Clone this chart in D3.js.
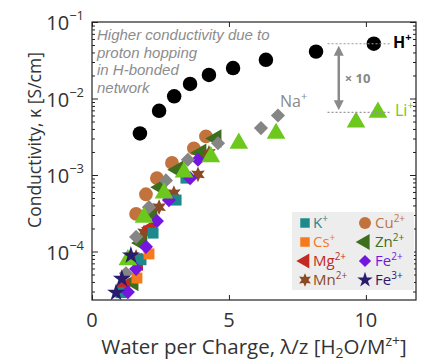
<!DOCTYPE html>
<html>
<head>
<meta charset="utf-8">
<script src="https://cdn.jsdelivr.net/npm/d3@7"></script>
<style>
  body { margin: 0; background: #fff; }
  text { font-family: 'Open Sans', sans-serif; }
</style>
</head>
<body>
<svg id="chart"></svg>
<script>
// data: [water per charge, conductivity S/cm]
const hPlus  = [[1.75,3.5e-3],[2.45,6.9e-3],[3.0,1.07e-2],[3.58,1.55e-2],[4.27,2.03e-2],[5.15,2.5e-2],[6.35,3.2e-2],[8.18,4.1e-2],[10.29,5.2e-2]]
const liPlus = [[1.31,7.8e-5],[1.90,2.8e-4],[2.63,5.8e-4],[3.36,1.09e-3],[4.34,1.73e-3],[5.36,2.6e-3],[6.72,3.5e-3],[9.64,4.9e-3],[10.44,6.6e-3]]
const naPlus = [[1.24,5.2e-5],[1.61,1.55e-4],[2.08,3.8e-4],[2.70,8.5e-4],[3.50,1.58e-3],[4.60,2.6e-3],[6.17,4.1e-3],[6.79,6.0e-3]]
const kPlus  = [[1.06,2.9e-5],[1.79,7.8e-5],[2.23,1.74e-4],[3.07,4.7e-4],[3.43,9.1e-4]]
const csPlus = [[1.64,4.5e-5],[2.08,9.3e-5]]
const mg2    = [[1.20,3.5e-5],[1.68,7.2e-5],[2.15,2.04e-4]]
const mn2    = [[1.61,8.5e-5],[1.90,1.78e-4],[2.45,3.8e-4],[2.99,5.8e-4],[3.87,1.02e-3],[4.27,1.94e-3]]
const cu2    = [[1.61,3.1e-4],[1.97,5.6e-4],[2.37,9.1e-4],[2.92,1.44e-3],[3.72,2.23e-3],[4.16,3.2e-3]]
const zn2    = [[1.50,4.0e-5],[1.82,1.29e-4],[2.19,3.2e-4],[2.52,6.9e-4],[3.14,1.17e-3],[3.98,1.95e-3],[4.53,3.0e-3]]
const fe2    = [[1.31,2.95e-5],[1.61,5.9e-5],[1.97,1.15e-4],[2.37,2.5e-4],[2.81,4.7e-4],[3.58,9.1e-4],[3.87,1.58e-3]]
const fe3    = [[0.88,2.9e-5],[1.09,4.4e-5],[1.42,8.9e-5]]

const xTicks = [0, 5, 10]
const yDecades = [-4, -3, -2, -1]

const width = 421, height = 363
const margin = {top: 22, right: 5, bottom: 63, left: 92}
const w = width - margin.left - margin.right
const h = height - margin.top - margin.bottom

const svg = d3.select('#chart').attr('width', width).attr('height', height)
const g = svg.append('g').attr('transform', `translate(${margin.left},${margin.top})`)

const x = d3.scaleLinear().domain([0, 11.83]).range([0, w])
const y = d3.scaleLog().domain([Math.pow(10, -1 - h / 76.5), 0.1]).range([h, 0])

// custom marker shapes
const sixStar = {
    draw(ctx, size) {
        const r = Math.sqrt(size) * 0.75, ri = r * 0.5
        for (let i = 0; i < 12; i++) {
            const a = i * Math.PI / 6 - Math.PI / 2
            const rr = i % 2 ? ri : r
            i ? ctx.lineTo(rr * Math.cos(a), rr * Math.sin(a)) : ctx.moveTo(rr * Math.cos(a), rr * Math.sin(a))
        }
        ctx.closePath()
    }
}

const series = [
    {name: 'Cu', data: cu2, color: '#c2733d', type: d3.symbolCircle, size: 150, rot: 0},
    {name: 'Zn', data: zn2, color: '#3d6e1c', type: d3.symbolTriangle, size: 150, rot: -90},
    {name: 'Mn', data: mn2, color: '#8a4a24', type: sixStar, size: 110, rot: 0},
    {name: 'Mg', data: mg2, color: '#c22a22', type: d3.symbolTriangle, size: 130, rot: -90},
    {name: 'K', data: kPlus, color: '#1c8a8c', type: d3.symbolSquare, size: 120, rot: 0},
    {name: 'Cs', data: csPlus, color: '#f57a1e', type: d3.symbolSquare, size: 120, rot: 0},
    {name: 'Fe2', data: fe2, color: '#7417de', type: d3.symbolSquare, size: 100, rot: 45},
    {name: 'Na', data: naPlus, color: '#858585', type: d3.symbolSquare, size: 100, rot: 45},
    {name: 'Li', data: liPlus, color: '#6cc81c', type: d3.symbolTriangle, size: 150, rot: 0},
    {name: 'Fe3', data: fe3, color: '#2a1c6c', type: d3.symbolStar, size: 100, rot: 0},
    {name: 'H', data: hPlus, color: '#000000', type: d3.symbolCircle, size: 165, rot: 0}
]

// frame + ticks
const minors = []
for (let k = -5; k < -1; k++) for (let m = 2; m < 10; m++) {
    const v = m * Math.pow(10, k)
    if (v >= y.domain()[0]) minors.push(v)
}
const majors = yDecades.map(d => Math.pow(10, d))

const styleAxis = sel => {
    sel.select('.domain').remove()
    sel.selectAll('line').attr('stroke', '#222')
}
g.append('g').call(d3.axisLeft(y).tickValues(majors).tickSize(-6).tickFormat('')).call(styleAxis)
g.append('g').call(d3.axisLeft(y).tickValues(minors).tickSize(-3).tickFormat('')).call(styleAxis)
g.append('g').attr('transform', `translate(${w},0)`).call(d3.axisRight(y).tickValues(majors).tickSize(-6).tickFormat('')).call(styleAxis)
g.append('g').attr('transform', `translate(${w},0)`).call(d3.axisRight(y).tickValues(minors).tickSize(-3).tickFormat('')).call(styleAxis)
g.append('g').attr('transform', `translate(0,${h})`).call(d3.axisBottom(x).tickValues(xTicks).tickSize(-5).tickFormat('')).call(styleAxis)
g.append('g').call(d3.axisTop(x).tickValues(xTicks).tickSize(-5).tickFormat('')).call(styleAxis)

g.append('rect').attr('width', w).attr('height', h)
    .attr('fill', 'none').attr('stroke', '#222').attr('stroke-width', 1.2)

// tick labels
yDecades.forEach(d => {
    const t = g.append('text').attr('x', -8).attr('y', y(Math.pow(10, d)) + 8)
        .attr('text-anchor', 'end').attr('font-size', 20).attr('fill', '#333')
    t.append('tspan').text('10')
    t.append('tspan').text('\u2212' + (-d)).attr('font-size', 13).attr('dy', -10)
})
xTicks.forEach(v => {
    g.append('text').attr('x', x(v)).attr('y', h + 27)
        .attr('text-anchor', 'middle').attr('font-size', 20).attr('fill', '#333').text(v)
})

// axis titles
const xt = svg.append('text').attr('x', 254).attr('y', 354)
    .attr('text-anchor', 'middle').attr('font-size', 20.5).attr('fill', '#333')
xt.append('tspan').text('Water per Charge, \u03bb/z [H')
xt.append('tspan').text('2').attr('font-size', 14).attr('dy', 4)
xt.append('tspan').text('O/M').attr('dy', -4)
xt.append('tspan').text('z+').attr('font-size', 14).attr('dy', -8)
xt.append('tspan').text(']').attr('dy', 8)

svg.append('text').attr('transform', 'translate(41,140) rotate(-90)')
    .attr('text-anchor', 'middle').attr('font-size', 17.5).attr('fill', '#333')
    .text('Conductivity, \u03ba [S/cm]')

// points
const sym = s => d3.symbol().type(s.type).size(s.size)
series.forEach(s => {
    g.append('g').selectAll('path')
        .data(s.data)
        .join('path')
        .attr('d', sym(s))
        .attr('fill', s.color)
        .attr('transform', d => `translate(${x(d[0])},${y(d[1])}) rotate(${s.rot})`)
})

// annotations
;['Higher conductivity due to', 'proton hopping', 'in H-bonded', 'network'].forEach((l, i) => {
    g.append('text').attr('x', 5).attr('y', 18 + i * 17.7)
        .style('font-family', "'Liberation Sans', sans-serif")
        .attr('font-size', 15).attr('font-style', 'italic').attr('fill', '#8c8c8c')
        .text(l)
})

const hTop = hPlus[hPlus.length - 1], liTop = liPlus[liPlus.length - 1]
;[hTop, liTop].forEach(p => {
    g.append('line').attr('x1', x(8.6)).attr('x2', x(10.9)).attr('y1', y(p[1])).attr('y2', y(p[1]))
        .attr('stroke', '#999').attr('stroke-width', 1.2).attr('stroke-dasharray', '2,2')
})
const ax = x(9.01)
const y1 = y(hTop[1]) + 2, y2 = y(liTop[1]) - 2
g.append('line').attr('x1', ax).attr('x2', ax).attr('y1', y1 + 8).attr('y2', y2 - 8)
    .attr('stroke', '#8a8a8a').attr('stroke-width', 2.5)
g.append('path').attr('d', `M${ax - 5},${y1 + 10}L${ax},${y1}L${ax + 5},${y1 + 10}Z`).attr('fill', '#8a8a8a')
g.append('path').attr('d', `M${ax - 5},${y2 - 10}L${ax},${y2}L${ax + 5},${y2 - 10}Z`).attr('fill', '#8a8a8a')
g.append('text').attr('x', ax + 6).attr('y', 61).attr('font-size', 13).attr('font-weight', 'bold')
    .attr('fill', '#888').text('\u00d7 10')

const ionLabel = (px, py, base, sup, color, weight) => {
    const t = g.append('text').attr('x', px).attr('y', py).attr('font-size', 16)
        .attr('fill', color).attr('font-weight', weight)
    t.append('tspan').text(base)
    t.append('tspan').text(sup).attr('font-size', 11).attr('dy', -7)
}
ionLabel(301, 26, 'H', '+', '#000', 'bold')
ionLabel(303, 94, 'Li', '+', '#6cc81c', 'normal')
ionLabel(188, 85, 'Na', '+', '#8a8a8a', 'normal')

// legend
const legendItems = [
    {label: 'K', sup: '+', s: series[4]},
    {label: 'Cu', sup: '2+', s: series[0]},
    {label: 'Cs', sup: '+', s: series[5]},
    {label: 'Zn', sup: '2+', s: series[1]},
    {label: 'Mg', sup: '2+', s: series[3]},
    {label: 'Fe', sup: '2+', s: series[6]},
    {label: 'Mn', sup: '2+', s: series[2]},
    {label: 'Fe', sup: '3+', s: series[9]}
]
const lg = svg.append('g').attr('transform', 'translate(292,212)')
lg.append('rect').attr('width', 122).attr('height', 78).attr('fill', '#ededed')
legendItems.forEach((it, i) => {
    const col = i % 2, row = Math.floor(i / 2)
    const cx = col ? 73 : 13, cy = 11 + row * 19
    lg.append('path')
        .attr('d', d3.symbol().type(it.s.type).size(it.s.size * 0.75))
        .attr('fill', it.s.color)
        .attr('transform', `translate(${cx},${cy}) rotate(${it.s.rot})`)
    const t = lg.append('text').attr('x', cx + (col ? 10 : 8)).attr('y', cy + 5)
        .attr('font-size', 15).attr('fill', it.s.color)
    t.append('tspan').text(it.label)
    t.append('tspan').text(it.sup).attr('font-size', 10).attr('dy', -6)
})
</script>
</body>
</html>
